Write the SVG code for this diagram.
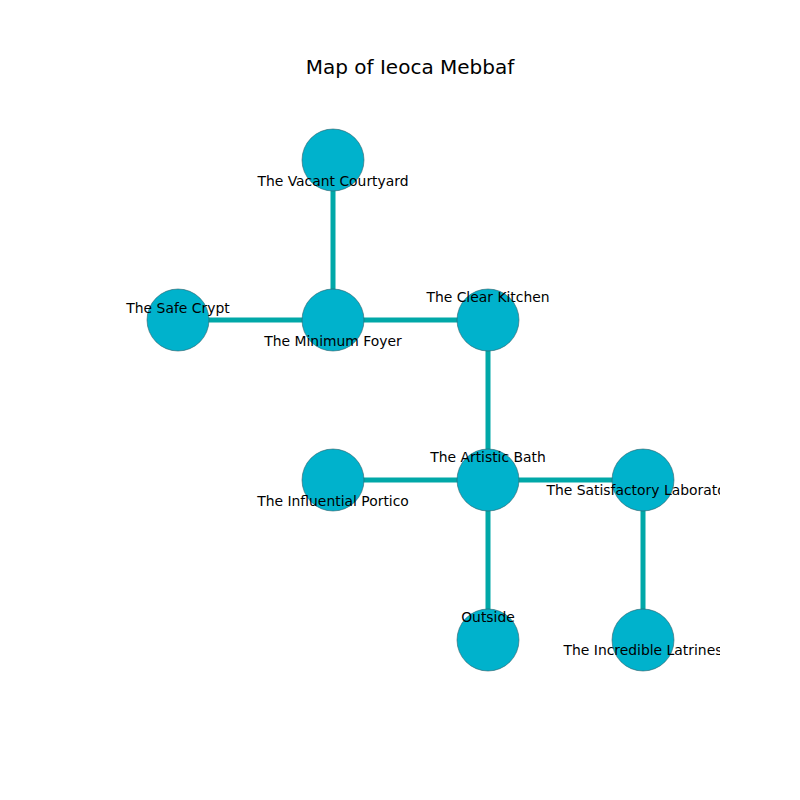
<svg xmlns="http://www.w3.org/2000/svg" width="800" height="800" viewBox="0 0 800 800">
<style>
.edge{stroke:#00a8a8;stroke-width:5;fill:none}
.node{fill:#00b2cc;stroke:#33606a;stroke-width:0.6}
.lbl{font-family:"DejaVu Sans",sans-serif;font-size:13.9px;fill:#000;text-anchor:middle;dominant-baseline:central}
.title{font-family:"DejaVu Sans",sans-serif;font-size:20px;fill:#000;text-anchor:middle;dominant-baseline:central}
</style>
<defs><clipPath id="ax"><rect x="80" y="96" width="640" height="608"/></clipPath></defs>
<rect width="800" height="800" fill="#fff"/>
<text class="title" x="410" y="67">Map of Ieoca Mebbaf</text>
<g id="connectors">
<line class="edge" x1="333" y1="160" x2="333" y2="320"/>
<line class="edge" x1="178" y1="320" x2="333" y2="320"/>
<line class="edge" x1="333" y1="320" x2="488" y2="320"/>
<line class="edge" x1="488" y1="320" x2="488" y2="480"/>
<line class="edge" x1="333" y1="480" x2="488" y2="480"/>
<line class="edge" x1="488" y1="480" x2="643" y2="480"/>
<line class="edge" x1="488" y1="480" x2="488" y2="640"/>
<line class="edge" x1="643" y1="480" x2="643" y2="640"/>
</g>
<g clip-path="url(#ax)">
<g id="vacant-courtyard"><circle class="node" cx="333" cy="160" r="31"/><text class="lbl" x="333" y="181">The Vacant Courtyard</text></g>
<g id="safe-crypt"><circle class="node" cx="178" cy="320" r="31"/><text class="lbl" x="178" y="308">The Safe Crypt</text></g>
<g id="minimum-foyer"><circle class="node" cx="333" cy="320" r="31"/><text class="lbl" x="333" y="341">The Minimum Foyer</text></g>
<g id="clear-kitchen"><circle class="node" cx="488" cy="320" r="31"/><text class="lbl" x="488" y="297">The Clear Kitchen</text></g>
<g id="influential-portico"><circle class="node" cx="333" cy="480" r="31"/><text class="lbl" x="333" y="501">The Influential Portico</text></g>
<g id="artistic-bath"><circle class="node" cx="488" cy="480" r="31"/><text class="lbl" x="488" y="457">The Artistic Bath</text></g>
<g id="satisfactory-laboratory"><circle class="node" cx="643" cy="480" r="31"/><text class="lbl" x="643" y="490">The Satisfactory Laboratory</text></g>
<g id="outside"><circle class="node" cx="488" cy="640" r="31"/><text class="lbl" x="488" y="617">Outside</text></g>
<g id="incredible-latrines"><circle class="node" cx="643" cy="640" r="31"/><text class="lbl" x="643" y="650">The Incredible Latrines</text></g>
</g>
</svg>
